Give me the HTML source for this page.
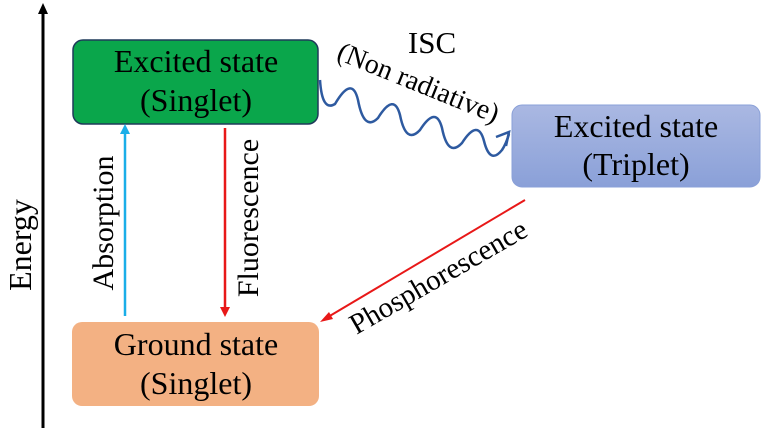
<!DOCTYPE html>
<html><head><style>
body{margin:0;background:#fff;}
text{font-family:"Liberation Serif","DejaVu Serif",serif;fill:#000;}
</style></head><body>
<svg width="762" height="431" viewBox="0 0 762 431" xmlns="http://www.w3.org/2000/svg">
<defs>
<linearGradient id="tg" x1="0" y1="0" x2="0" y2="1"><stop offset="0" stop-color="#aab8e2"/><stop offset="1" stop-color="#8aa0d8"/></linearGradient>
</defs>
<line x1="43" y1="428" x2="43" y2="12" stroke="#000" stroke-width="3"/>
<polygon points="43,3 38,14 48,14" fill="#000"/>
<g font-family="Liberation Serif, DejaVu Serif, serif">
<text transform="translate(31,245) rotate(-90)" font-size="32" text-anchor="middle">Energy</text>
<rect x="73" y="40" width="245" height="84" rx="10" fill="#0aa64b" stroke="#1f3a5a" stroke-width="1.5"/>
<text x="196" y="72" font-size="32" text-anchor="middle">Excited state</text>
<text x="196" y="111" font-size="32" text-anchor="middle">(Singlet)</text>
<rect x="72" y="322" width="247" height="84" rx="10" fill="#f3b183"/>
<text x="196" y="355" font-size="32" text-anchor="middle">Ground state</text>
<text x="196" y="394" font-size="32" text-anchor="middle">(Singlet)</text>
<rect x="512" y="105" width="248" height="82" rx="10" fill="url(#tg)" stroke="#8aa0d8"/>
<text x="636" y="137" font-size="32" text-anchor="middle">Excited state</text>
<text x="636" y="175" font-size="32" text-anchor="middle">(Triplet)</text>
<line x1="125" y1="316" x2="125" y2="132" stroke="#1aaee8" stroke-width="2.5"/>
<polygon points="125,124 120,134 130,134" fill="#1aaee8"/>
<text transform="translate(113,223) rotate(-90)" font-size="30" text-anchor="middle">Absorption</text>
<line x1="225" y1="128" x2="225" y2="308" stroke="#e81818" stroke-width="2.5"/>
<polygon points="225,317 220,307 230,307" fill="#e81818"/>
<text transform="translate(258,218) rotate(-90)" font-size="30" text-anchor="middle">Fluorescence</text>
<line x1="525" y1="200" x2="328" y2="317" stroke="#e81818" stroke-width="2"/>
<polygon points="320,322 329,312 333,319" fill="#e81818"/>
<text transform="translate(443,285) rotate(-30)" font-size="29" text-anchor="middle">Phosphorescence</text>
<path d="M320,80 Q322,112 335,104 Q352,75 358,100 Q364,132 378,118 Q394,92 400,115 Q406,145 420,130 Q436,105 442,128 Q448,158 462,143 Q478,118 484,141 Q490,165 502,150 Q506,144 509,134" fill="none" stroke="#2e5aa0" stroke-width="2.5"/>
<polyline points="496,137 509,132 506,146" fill="none" stroke="#2e5aa0" stroke-width="2.5"/>
<text x="432" y="53" font-size="31" text-anchor="middle">ISC</text>
<text transform="translate(415,91) rotate(22)" font-size="28" text-anchor="middle">(Non radiative)</text>
</g>
</svg>
</body></html>
